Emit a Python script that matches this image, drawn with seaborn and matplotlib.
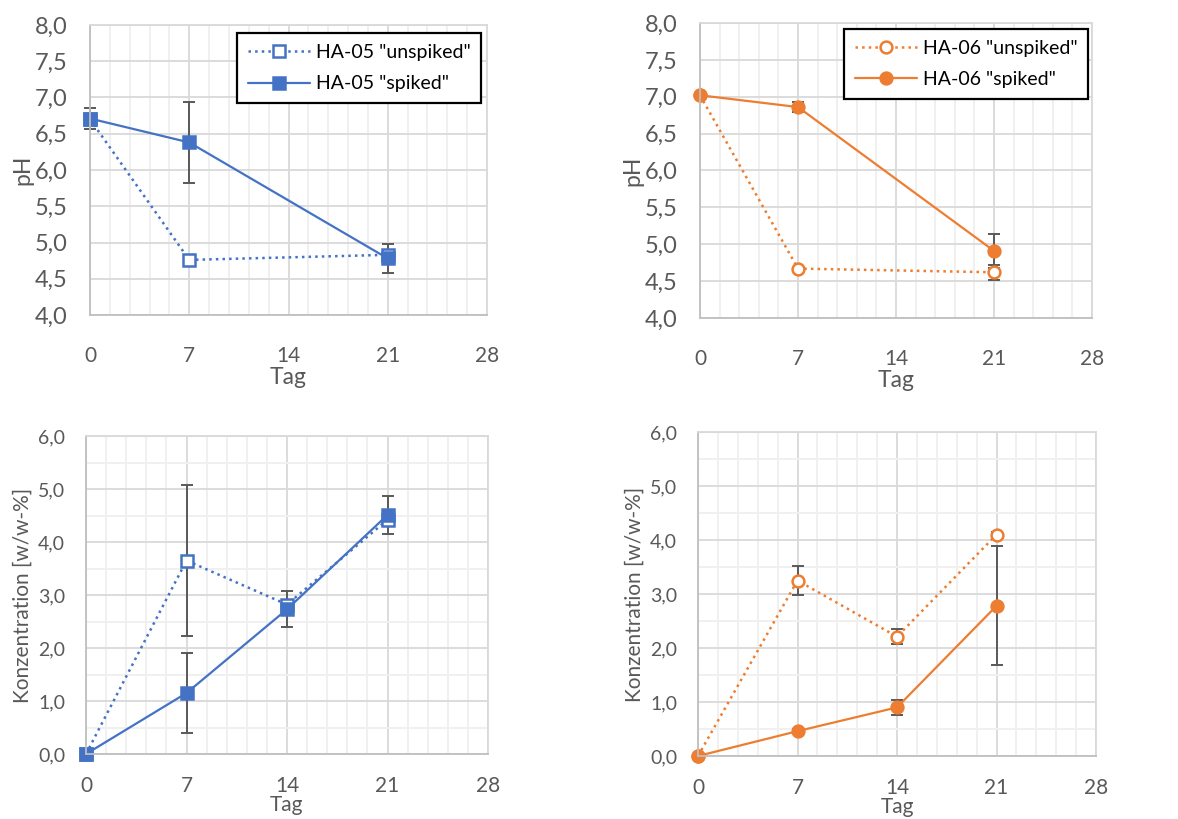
import numpy as np
import pandas as pd
import matplotlib
matplotlib.use("Agg")
import matplotlib.pyplot as plt
import seaborn as sns
from matplotlib.ticker import MultipleLocator, FuncFormatter

# Werte
days_ph = [0, 7, 21]
ha05_ph_unspiked = [6.70, 4.76, 4.83]
ha05_ph_unspiked_err = [0.0, 0.0, 0.0]
ha05_ph_spiked = [6.71, 6.38, 4.78]
ha05_ph_spiked_err = [0.14, 0.56, 0.20]
ha06_ph_unspiked = [7.02, 4.67, 4.62]
ha06_ph_unspiked_err = [0.0, 0.0, 0.10]
ha06_ph_spiked = [7.02, 6.86, 4.91]
ha06_ph_spiked_err = [0.01, 0.07, 0.23]

days_conc = [0, 7, 14, 21]
ha05_conc_unspiked = [0.0, 3.65, 2.82, 4.42]
ha05_conc_unspiked_err = [0.0, 1.43, 0.0, 0.0]
ha05_conc_spiked = [0.0, 1.15, 2.73, 4.51]
ha05_conc_spiked_err = [0.0, 0.76, 0.34, 0.35]
ha06_conc_unspiked = [0.0, 3.25, 2.21, 4.10]
ha06_conc_unspiked_err = [0.0, 0.26, 0.14, 0.05]
ha06_conc_spiked = [0.0, 0.46, 0.90, 2.78]
ha06_conc_spiked_err = [0.0, 0.04, 0.14, 1.10]

blue = "#4472C4"
orange = "#ED7D31"
textcol = "#595959"

sns.set_theme(style="white")
plt.rcParams["font.family"] = ["Lato", "DejaVu Sans"]

fig = plt.figure(figsize=(11.78, 8.19), dpi=100)
W, H = 1178, 819


def make_ax(l, r, t, b):
    return fig.add_axes([l / W, 1 - b / H, (r - l) / W, (b - t) / H])


ax_tl = make_ax(90, 487, 25, 315)
ax_tr = make_ax(700, 1092, 23, 318)
ax_bl = make_ax(86, 488, 436, 754)
ax_br = make_ax(698, 1096, 432, 756)

comma = FuncFormatter(lambda v, p: f"{v:.1f}".replace(".", ","))


def draw(ax, x, y, err, color, marker, filled, label, dotted):
    ax.errorbar(x, y, yerr=err, fmt="none", ecolor="#595959", elinewidth=1.4,
                capsize=4, capthick=1.4, zorder=1.9, clip_on=False)
    df = pd.DataFrame({"Tag": x, "v": y})
    sns.lineplot(data=df, x="Tag", y="v", ax=ax, color=color,
                 linestyle=":" if dotted else "-", linewidth=1.6 if not dotted else 1.8,
                 marker=marker, markersize=8 if marker == "s" else 8.5,
                 markerfacecolor=color if filled else "white",
                 markeredgecolor=color, markeredgewidth=1.8,
                 label=label, zorder=2, clip_on=False)


def style(ax, ymin, ymax, ymaj, ymin_step, ylabel, ysize, xpad, ypad, lsize):
    ax.set_xlim(0, 28)
    ax.set_ylim(ymin, ymax)
    ax.xaxis.set_major_locator(MultipleLocator(7))
    ax.xaxis.set_minor_locator(MultipleLocator(1.4))
    ax.yaxis.set_major_locator(MultipleLocator(ymaj))
    if ymin_step:
        ax.yaxis.set_minor_locator(MultipleLocator(ymin_step))
    ax.yaxis.set_major_formatter(comma)
    ax.grid(which="major", color="#D9D9D9", linewidth=1.3)
    ax.grid(which="minor", color="#F0F0F0", linewidth=1.4)
    ax.set_axisbelow(True)
    for s in ["top", "right"]:
        ax.spines[s].set_color("#D9D9D9")
        ax.spines[s].set_linewidth(1.3)
    for s in ["left", "bottom"]:
        ax.spines[s].set_color("#BFBFBF")
        ax.spines[s].set_linewidth(1.3)
    ax.tick_params(axis="y", which="both", length=0, pad=ypad, labelsize=ysize, labelcolor=textcol)
    ax.tick_params(axis="x", which="both", length=0, pad=xpad, labelsize=15, labelcolor=textcol)
    ax.set_ylabel(ylabel, fontsize=lsize, color=textcol)
    ax.set_xlabel("Tag", fontsize=lsize, color=textcol)


# pH HA-05
draw(ax_tl, days_ph, ha05_ph_unspiked, ha05_ph_unspiked_err, blue, "s", False, 'HA-05 "unspiked"', True)
draw(ax_tl, days_ph, ha05_ph_spiked, ha05_ph_spiked_err, blue, "s", True, 'HA-05 "spiked"', False)
style(ax_tl, 4.0, 8.0, 0.5, None, "pH", 17, 22, 16, 16.5)
ax_tl.xaxis.labelpad = 1
ax_tl.yaxis.labelpad = 1

# pH HA-06
draw(ax_tr, days_ph, ha06_ph_unspiked, ha06_ph_unspiked_err, orange, "o", False, 'HA-06 "unspiked"', True)
draw(ax_tr, days_ph, ha06_ph_spiked, ha06_ph_spiked_err, orange, "o", True, 'HA-06 "spiked"', False)
style(ax_tr, 4.0, 8.0, 0.5, None, "pH", 17, 22, 16, 16.5)
ax_tr.xaxis.labelpad = 1
ax_tr.yaxis.labelpad = 1

# Konzentration HA-05
draw(ax_bl, days_conc, ha05_conc_unspiked, ha05_conc_unspiked_err, blue, "s", False, None, True)
draw(ax_bl, days_conc, ha05_conc_spiked, ha05_conc_spiked_err, blue, "s", True, None, False)
style(ax_bl, 0.0, 6.0, 1.0, 0.5, "Konzentration [w/w-%]", 14, 16, 15, 15)
ax_bl.xaxis.labelpad = -1
ax_bl.yaxis.labelpad = 4

# Konzentration HA-06
draw(ax_br, days_conc, ha06_conc_unspiked, ha06_conc_unspiked_err, orange, "o", False, None, True)
draw(ax_br, days_conc, ha06_conc_spiked, ha06_conc_spiked_err, orange, "o", True, None, False)
style(ax_br, 0.0, 6.0, 1.0, 0.5, "Konzentration [w/w-%]", 14, 16, 15, 15)
ax_br.xaxis.labelpad = -1
ax_br.yaxis.labelpad = 4

for ax, anchor in [(ax_tl, (0.985, 0.972)), (ax_tr, (0.99, 0.98))]:
    leg = ax.legend(loc="upper right", bbox_to_anchor=anchor, fontsize=14,
                    frameon=True, fancybox=False, handlelength=3.2,
                    handletextpad=0.3, borderpad=0.55, labelspacing=0.75,
                    borderaxespad=0, framealpha=1)
    leg.get_frame().set_edgecolor("black")
    leg.get_frame().set_linewidth(1.6)
    for t in leg.get_texts():
        t.set_color("black")

for ax in [ax_bl, ax_br]:
    if ax.get_legend():
        ax.get_legend().remove()

fig.savefig("out.png", dpi=100)
